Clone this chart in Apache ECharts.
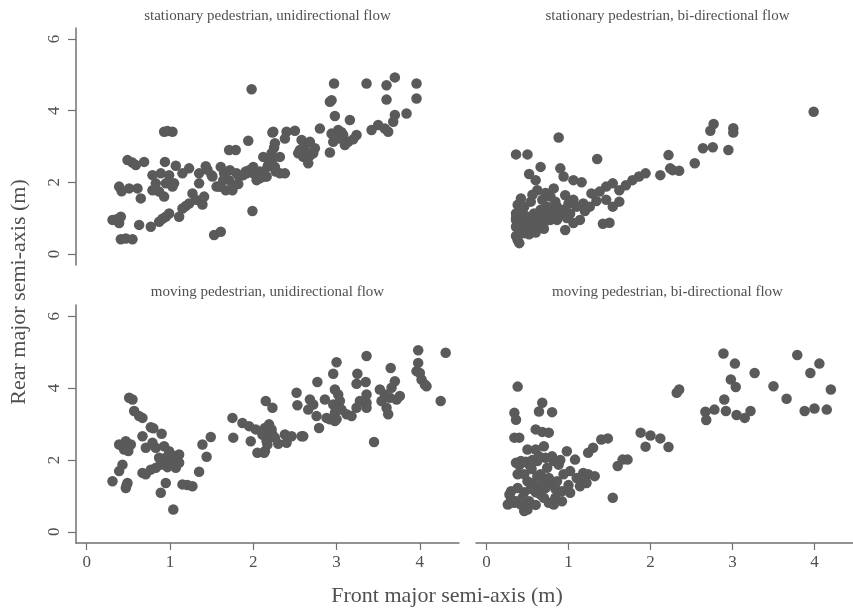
<!DOCTYPE html>
<html>
<head>
<meta charset="utf-8">
<script src="https://cdn.jsdelivr.net/npm/echarts@6/dist/echarts.min.js"></script>
<style>
  html, body { margin: 0; padding: 0; background: #fff; }
  #chart { width: 853px; height: 609px; }
</style>
</head>
<body>
<div id="chart"></div>
<script>
// tick labels
const xTicks = [0, 1, 2, 3, 4]
const yTicks = [0, 2, 4, 6]

const panelTitles = [
    'stationary pedestrian, unidirectional flow',
    'stationary pedestrian, bi-directional flow',
    'moving pedestrian, unidirectional flow',
    'moving pedestrian, bi-directional flow'
]

// [front, rear] semi-axis (m)
const stationaryUni = [
    [1.98,4.60],[0.93,3.41],[1.03,3.41],[0.97,3.43],[1.94,3.16],
    [0.49,2.62],[0.59,2.48],[0.69,2.57],[0.55,2.55],[0.94,2.57],[1.07,2.46],[1.23,2.39],[1.43,2.45],
    [0.79,2.20],[0.89,2.25],[0.99,2.20],[1.05,1.97],[1.15,2.25],[0.95,1.97],
    [0.39,1.88],[0.51,1.83],[0.61,1.83],[0.65,1.55],[0.42,1.75],
    [0.79,1.78],[0.87,1.74],[0.93,1.60],[1.03,1.88],[0.83,1.97],
    [1.27,1.69],[1.35,1.97],[1.37,1.46],[1.41,1.60],[1.35,2.25],[1.39,1.38],
    [1.51,2.16],[1.71,2.90],[1.79,2.90],
    [1.61,2.43],[1.65,2.25],[1.59,1.88],[1.67,1.78],[1.75,1.78],[1.71,2.06],[1.83,2.16],[1.91,2.30],
    [1.95,2.34],[2.03,2.30],[2.11,2.16],[2.17,2.43],[2.23,2.62],[2.23,3.39],[2.25,2.97],[2.27,2.30],
    [1.99,1.20],
    [0.31,0.95],[0.39,0.86],[0.41,1.04],[0.36,0.97],
    [0.41,0.41],[0.55,0.41],[0.47,0.43],
    [0.63,0.81],[0.77,0.76],[0.87,0.90],[0.95,1.04],[0.99,1.13],[0.91,0.98],
    [1.11,1.04],[1.15,1.27],[1.23,1.41],[1.31,1.51],[1.19,1.34],
    [1.53,0.53],[1.61,0.62],
    [1.56,1.88],[1.60,1.88],[1.64,2.06],[1.76,1.92],[1.72,2.34],[1.80,2.25],[1.92,2.25],[2.00,2.25],
    [2.04,2.06],[2.08,2.30],[2.00,2.43],[1.82,1.95],[1.45,2.35],[1.50,2.20],[1.88,2.20],[2.16,2.16],[2.18,2.48],
    [2.97,4.76],[3.36,4.76],[3.60,4.71],[3.70,4.93],[3.96,4.76],[3.96,4.34],[2.94,4.29],[2.92,4.25],
    [3.60,4.31],[2.98,3.85],[3.16,3.74],[3.70,3.88],[3.68,3.69],[3.84,3.92],[3.42,3.46],[3.50,3.60],
    [3.58,3.50],[3.62,3.41],
    [2.94,3.36],[3.02,3.46],[3.04,3.22],[2.96,3.13],[3.08,3.32],[3.14,3.13],[3.24,3.32],[3.10,3.04],
    [2.92,2.83],[2.80,3.50],[3.00,3.28],[3.06,3.40],[3.20,3.20],
    [2.24,3.41],[2.40,3.41],[2.50,3.44],[2.38,3.22],[2.26,3.09],
    [2.58,3.18],[2.62,3.04],[2.68,3.13],[2.56,2.90],[2.64,2.85],[2.72,2.81],[2.66,2.53],[2.60,2.71],
    [2.54,2.81],[2.68,2.75],[2.74,2.95],
    [2.12,2.71],[2.22,2.81],[2.32,2.71],[2.20,2.53],[2.26,2.43],[2.32,2.25],[2.38,2.25],[2.08,2.11],[2.14,2.16]
]

const stationaryBi = [
    [0.88,3.25],[0.36,2.78],[0.50,2.78],[1.35,2.65],
    [0.66,2.43],[0.52,2.23],[0.90,2.39],[0.94,2.16],[1.06,2.06],[1.16,2.00],[0.60,2.06],[0.82,1.83],
    [0.62,1.78],[0.68,1.51],[0.78,1.60],[0.84,1.46],[0.96,1.64],[1.06,1.51],[1.18,1.41],[1.28,1.69],
    [1.38,1.74],[1.46,1.88],[1.54,1.97],[1.62,1.78],[1.70,1.92],[1.78,2.06],[1.86,2.16],[1.94,2.25],
    [2.12,2.20],[2.22,2.76],[2.24,2.39],
    [0.38,1.37],[0.46,1.32],[0.54,1.46],[0.36,1.13],[0.42,0.95],[0.50,1.04],[0.58,1.13],[0.66,1.23],
    [0.74,1.32],[0.86,1.32],[0.94,1.23],[1.02,1.13],[1.10,1.32],[1.14,0.95],[0.36,0.76],[0.40,0.58],
    [0.46,0.58],[0.54,0.67],[0.62,0.76],[0.70,0.86],[0.78,0.95],[0.86,0.95],[0.96,0.67],[1.06,0.86],
    [0.38,0.39],[0.40,0.30],[1.42,0.84],[1.50,0.87],[1.26,1.32],[1.46,1.51],[1.54,1.32],[1.62,1.46],
    [0.36,0.95],[0.36,1.00],[0.44,1.20],[0.50,0.80],[0.58,0.90],[0.66,1.00],[0.72,1.10],[0.80,1.15],
    [0.90,1.10],[0.98,1.00],[0.44,0.70],[0.52,0.55],[0.60,0.60],[0.70,0.70],[0.36,0.50],[0.42,1.55],
    [0.56,1.65],[0.72,1.70],[1.00,1.40],[1.20,1.20],[1.34,1.48],
    [2.27,2.34],[2.35,2.32],[2.54,2.53],[2.64,2.95],[2.76,2.98],[2.73,3.44],[2.77,3.63],[2.95,2.90],
    [3.01,3.51],[3.01,3.39],[3.99,3.97]
]

const movingUni = [
    [0.51,3.73],[0.55,3.68],[0.57,3.36],[0.63,3.22],[0.67,3.17],[0.77,2.91],[0.80,2.88],[0.90,2.73],
    [0.39,2.43],[0.47,2.52],[0.53,2.43],[0.45,2.29],[0.42,2.40],[0.50,2.25],
    [0.67,2.66],[0.71,2.34],[0.79,2.48],[0.83,2.34],[0.93,2.38],[0.99,2.24],[1.05,2.11],
    [1.11,2.15],[1.11,1.92],[1.07,1.78],[1.01,2.01],[0.95,2.06],[0.89,1.87],[0.83,1.78],[0.77,1.73],
    [0.71,1.60],[0.67,1.64],[0.87,2.06],[0.93,1.95],[1.03,1.90],[0.97,1.80],
    [0.43,1.87],[0.39,1.69],[0.31,1.41],[0.47,1.22],[0.49,1.36],[0.48,1.30],
    [0.95,1.36],[0.89,1.09],[1.04,0.62],
    [1.15,1.32],[1.21,1.30],[1.27,1.27],[1.35,1.67],[1.44,2.09],[1.39,2.43],[1.49,2.64],
    [1.75,3.17],[1.76,2.62],[2.15,3.64],[2.23,3.45],
    [1.87,3.03],[1.95,2.94],[2.03,2.85],[1.97,2.52],[2.05,2.20],[2.13,2.20],[2.17,2.43],[2.11,2.71],
    [2.23,2.71],[2.19,2.99],
    [3.98,5.05],[4.31,4.98],[3.36,4.89],[3.00,4.72],[2.96,4.40],[3.65,4.56],[3.25,4.40],[2.77,4.17],
    [3.98,4.70],[3.96,4.47],[4.00,4.42],[4.02,4.24],[4.06,4.10],[4.08,4.05],[4.25,3.64],
    [3.35,4.17],[3.24,4.12],[3.70,4.19],[3.66,4.01],
    [2.52,3.87],[2.53,3.52],[2.68,3.68],[2.72,3.54],[2.66,3.40],[2.76,3.22],[2.86,3.68],[2.79,2.89],
    [2.98,3.96],[3.02,3.82],[3.04,3.64],[2.96,3.54],[2.98,3.31],[3.06,3.40],[3.00,3.13],[2.92,3.13],
    [2.88,3.17],[2.98,3.08],[3.12,3.27],[3.18,3.22],[3.24,3.45],[3.28,3.64],[3.36,3.82],[3.36,3.59],
    [3.36,3.45],[3.45,2.50],
    [3.52,3.96],[3.58,3.82],[3.54,3.64],[3.64,3.73],[3.72,3.68],[3.76,3.78],[3.60,3.45],[3.62,3.27],
    [2.14,2.89],[2.22,2.85],[2.12,2.71],[2.16,2.52],[2.14,2.24],[2.38,2.71],[2.40,2.48],[2.60,2.66],
    [2.58,2.66],[2.26,2.62],[2.30,2.45],[2.46,2.66]
]

const movingBi = [
    [0.38,4.04],[0.34,3.31],[0.36,3.12],[0.68,3.59],[0.64,3.35],[0.80,3.33],[0.34,2.62],[0.40,2.62],
    [0.60,2.85],[0.68,2.78],[0.76,2.76],
    [0.50,2.29],[0.60,2.29],[0.70,2.38],[0.36,1.92],[0.42,1.97],[0.52,1.87],[0.62,1.97],[0.72,2.06],
    [0.82,1.97],[0.88,1.87],[0.98,2.24],[1.08,2.01],[1.18,1.64],[1.24,1.60],[1.32,1.55],[1.22,1.36],
    [1.14,1.27],[1.02,1.09],[0.92,1.13],[0.84,0.95],[0.76,0.81],[0.82,0.76],[0.66,1.04],[0.58,1.22],
    [0.50,1.41],[0.46,1.60],[0.38,1.60],[0.30,1.13],[0.26,0.76],[0.34,0.81],[0.38,1.22],[0.46,0.58],
    [0.52,0.85],[0.56,1.36],[0.66,1.60],[0.74,1.78],[0.86,1.41],[0.94,1.60],[1.02,1.69],[1.10,1.50],
    [0.64,1.27],[0.72,1.22],
    [0.28,1.04],[0.36,0.85],[0.50,0.62],[0.42,0.76],
    [0.55,1.75],[0.62,1.55],[0.70,1.45],[0.78,1.35],[0.60,1.10],[0.68,1.30],[0.76,1.50],[0.84,1.20],
    [0.40,1.85],[0.48,1.95],[0.56,2.00],[0.64,2.10],[0.80,2.10],[0.90,2.00],[0.46,1.10],[0.54,1.20],
    [0.30,0.90],[0.44,0.95],[1.00,1.30],[1.16,1.45],[0.70,0.95],[0.92,0.85],[0.60,0.75],
    [1.24,2.20],[1.30,2.34],[1.40,2.57],[1.48,2.60],[1.60,1.83],[1.66,2.01],[1.72,2.01],[1.54,0.95],
    [1.88,2.76],[2.00,2.68],[2.12,2.60],[1.94,2.37],[2.22,2.36],
    [2.32,3.87],[2.35,3.96],[2.67,3.34],[2.68,3.11],[2.78,3.40],[2.92,3.36],[3.05,3.25],[3.15,3.17],
    [3.22,3.36],[2.90,3.68],[2.89,4.96],[3.03,4.68],[2.98,4.24],[3.04,4.03],[3.27,4.42],[3.50,4.05],
    [3.66,3.70],[3.79,4.92],[3.95,4.42],[4.06,4.68],[4.20,3.96],[3.88,3.36],[4.00,3.43],[4.15,3.40]
]

const panelData = [stationaryUni, stationaryBi, movingUni, movingBi]

const FONT = '"Liberation Serif", "DejaVu Serif", serif'
const AXIS_COLOR = '#707070'
const TEXT_COLOR = '#505050'
const DOT_COLOR = '#5a5a5a'

const grids = [
    { left: 76, top: 28, width: 383, height: 237 },
    { left: 476, top: 28, width: 383, height: 237 },
    { left: 76, top: 305, width: 383, height: 238 },
    { left: 476, top: 305, width: 383, height: 238 }
]

const xAxes = grids.map((g, i) => ({
    type: 'value',
    gridIndex: i,
    min: -0.128,
    max: 4.47,
    show: i >= 2,
    splitLine: { show: false },
    axisLine: { show: true, onZero: false, lineStyle: { color: AXIS_COLOR, width: 1.5 } },
    axisTick: { show: true, length: 7, customValues: xTicks, lineStyle: { color: AXIS_COLOR, width: 1.2 } },
    axisLabel: {
        customValues: xTicks, margin: 11,
        fontFamily: FONT, fontSize: 17, color: TEXT_COLOR
    }
}))

const yAxes = grids.map((g, i) => ({
    type: 'value',
    gridIndex: i,
    min: -0.31,
    max: 6.31,
    show: i % 2 === 0,
    splitLine: { show: false },
    axisLine: { show: true, onZero: false, lineStyle: { color: AXIS_COLOR, width: 1.5 } },
    axisTick: { show: true, length: 8, customValues: yTicks, lineStyle: { color: AXIS_COLOR, width: 1.2 } },
    axisLabel: {
        customValues: yTicks, rotate: 90, margin: 13,
        fontFamily: FONT, fontSize: 17, color: TEXT_COLOR
    }
}))

const series = panelData.map((d, i) => ({
    type: 'scatter',
    xAxisIndex: i,
    yAxisIndex: i,
    data: d,
    symbol: 'circle',
    symbolSize: 10.5,
    itemStyle: { color: DOT_COLOR, opacity: 1 },
    emphasis: { disabled: true }
}))

// panel headers and shared axis titles
const headerY = [16, 16, 292.5, 292.5]
const texts = panelTitles.map((t, i) => ({
    type: 'text',
    x: grids[i].left + grids[i].width / 2,
    y: headerY[i],
    style: {
        text: t, font: '15px ' + FONT, fill: TEXT_COLOR,
        textAlign: 'center', textVerticalAlign: 'middle'
    }
}))
texts.push({
    type: 'text', x: 447, y: 596,
    style: {
        text: 'Front major semi-axis (m)', font: '22px ' + FONT, fill: TEXT_COLOR,
        textAlign: 'center', textVerticalAlign: 'middle'
    }
})
texts.push({
    type: 'text', x: 19, y: 292, rotation: Math.PI / 2,
    style: {
        text: 'Rear major semi-axis (m)', font: '22px ' + FONT, fill: TEXT_COLOR,
        textAlign: 'center', textVerticalAlign: 'middle'
    }
})

const myChart = echarts.init(document.getElementById('chart'))
myChart.setOption({
    animation: false,
    backgroundColor: '#fff',
    grid: grids,
    xAxis: xAxes,
    yAxis: yAxes,
    series: series,
    graphic: texts
})
</script>
</body>
</html>
